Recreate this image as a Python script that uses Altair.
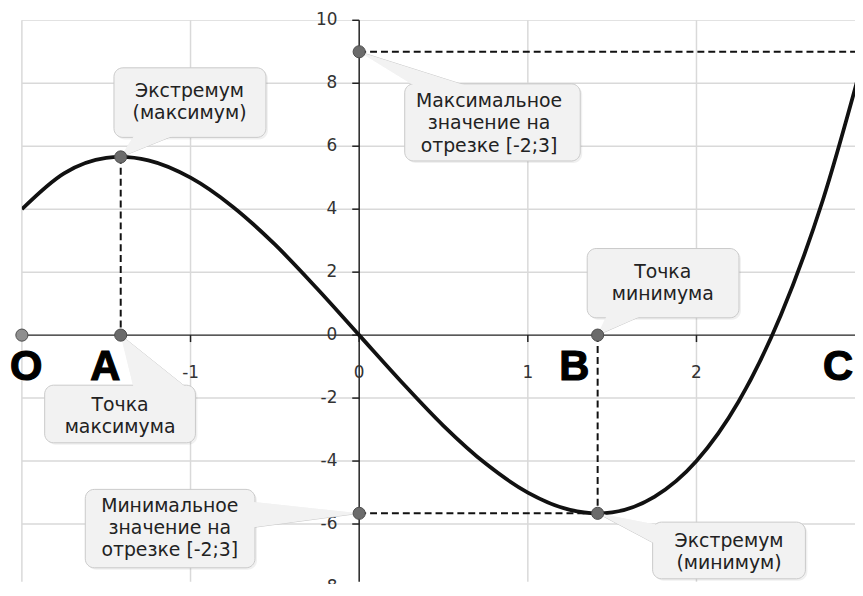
import altair as alt
import pandas as pd

# ---------------- data ----------------
# curve y(x) on [-2; 3]
curve_x = [-2, -1.75, -1.5, -1.414, -1.25, -1, -0.75, -0.5, -0.25, 0,
           0.25, 0.5, 0.75, 1, 1.25, 1.414, 1.5, 1.75, 2, 2.25, 2.5, 2.75, 3]
curve_y = [4.0, 5.14, 5.63, 5.66, 5.55, 5.0, 4.08, 2.88, 1.48, 0.0,
           -1.48, -2.88, -4.08, -5.0, -5.55, -5.66, -5.63, -5.14, -4.0, -2.11, 0.63, 4.3, 9.0]

x_ticks = [-1, 0, 1, 2]
y_ticks = [-8, -6, -4, -2, 0, 2, 4, 6, 8, 10]
x_grid = [-2, -1, 0, 1, 2, 3]

# marked points
pt_x = [-2, -1.414, -1.414, 0, 0, 1.414, 1.414]
pt_y = [0, 5.66, 0, 9, -5.66, 0, -5.66]
pt_kind = ["O", "p", "p", "p", "p", "p", "p"]

# big letters on the x axis
letters = ["O", "A", "B", "C"]
letter_x = [-1.974, -1.506, 1.275, 2.84]
letter_y = [-1.44, -1.44, -1.44, -1.44]

# dashed guide lines
guide_x = [-1.414, 1.414, 0, 0]
guide_x2 = [-1.414, 1.414, 3, 1.414]
guide_y = [5.66, 0, 9, -5.66]
guide_y2 = [0, -5.66, 9, -5.66]

# callouts
callout_text = [
    "Экстремум\n(максимум)",
    "Максимальное\nзначение на\nотрезке [-2;3]",
    "Точка\nминимума",
    "Точка\nмаксимума",
    "Минимальное\nзначение на\nотрезке [-2;3]",
    "Экстремум\n(минимум)",
]
box_x = [-1.454, 0.27, 1.352, -1.865, -1.624, 1.74]
box_x2 = [-0.553, 1.311, 2.252, -0.971, -0.618, 2.646]
box_y = [8.49, 7.98, 2.75, -1.59, -4.90, -5.94]
box_y2 = [6.28, 5.53, 0.55, -3.42, -7.39, -7.74]
text_x = [-1.006, 0.77, 1.80, -1.418, -1.123, 2.193]
text_y = [7.75, 7.43, 2.0, -2.21, -5.42, -6.53]   # first line of each callout

# callout tails: (callout id, vertex x, vertex y)
tail_id = [0, 0, 0, 1, 1, 1, 2, 2, 2, 3, 3, 3, 4, 4, 4, 5, 5, 5]
tail_x = [-1.33, -1.08, -1.414, 0.34, 0.66, 0.0, 1.47, 1.69, 1.414,
          -1.335, -1.01, -1.414, -0.66, -0.66, 0.0, 1.78, 1.78, 1.414]
tail_y = [6.38, 6.38, 5.66, 7.88, 7.88, 9.0, 0.65, 0.65, 0.0,
          -1.73, -1.73, 0.0, -5.28, -6.13, -5.66, -6.04, -6.70, -5.66]

# ---------------- layout ----------------
X_DOM = [-2, 2.94]
Y_DOM = [-7.83, 10]
W, H = 840, 566
xs = alt.Scale(domain=X_DOM, nice=False, zero=False)
ys = alt.Scale(domain=Y_DOM, nice=False, zero=False)

FONT = "DejaVu Sans"
AXIS_C = "#222222"

curve = pd.DataFrame({"x": curve_x, "y": curve_y})
gridx = pd.DataFrame({"v": x_grid})
gridy = pd.DataFrame({"v": y_ticks})
xt = pd.DataFrame({"v": x_ticks})
yt = pd.DataFrame({"v": y_ticks})
origin = pd.DataFrame({"v": [0]})
pts = pd.DataFrame({"x": pt_x, "y": pt_y, "k": pt_kind})
lets = pd.DataFrame({"t": letters, "x": letter_x, "y": letter_y})
guides = pd.DataFrame({"x": guide_x, "x2": guide_x2, "y": guide_y, "y2": guide_y2})
boxes = pd.DataFrame({"x": box_x, "x2": box_x2, "y": box_y, "y2": box_y2,
                      "tx": text_x, "ty": text_y, "t": callout_text})
tails = pd.DataFrame({"id": tail_id, "x": tail_x, "y": tail_y,
                      "o": [i % 3 for i in range(len(tail_id))]})


def X(f):
    return alt.X(f, scale=xs, axis=None, title=None)


def Y(f):
    return alt.Y(f, scale=ys, axis=None, title=None)


vgrid = alt.Chart(gridx).transform_filter("datum.v != 0").mark_rule(
    color="#d9d9d9", strokeWidth=1.5
).encode(x=X("v:Q"))

hgrid = alt.Chart(gridy).transform_filter("datum.v != 0").mark_rule(
    color="#d9d9d9", strokeWidth=1.5, clip=True
).encode(y=Y("v:Q"))

# axes drawn at x = 0 and y = 0
yaxis_line = alt.Chart(origin).mark_rule(color=AXIS_C, strokeWidth=1.5).encode(x=X("v:Q"))
xaxis_line = alt.Chart(origin).mark_rule(color=AXIS_C, strokeWidth=1.5).encode(y=Y("v:Q"))

yticks = alt.Chart(yt).transform_calculate(z="0").mark_tick(
    orient="horizontal", size=7, thickness=1.5, xOffset=-3.5, color=AXIS_C, opacity=1
).encode(x=X("z:Q"), y=Y("v:Q"))

xticks = alt.Chart(xt).transform_calculate(z="0").mark_tick(
    orient="vertical", size=7, thickness=1.5, yOffset=3.5, color=AXIS_C, opacity=1
).encode(x=X("v:Q"), y=Y("z:Q"))

ylabels = alt.Chart(yt).transform_calculate(z="0", lab="toString(datum.v)").mark_text(
    font=FONT, fontSize=17, color="#333333", align="right", baseline="middle", dx=-22
).encode(x=X("z:Q"), y=Y("v:Q"), text="lab:N")

xlabels = alt.Chart(xt).transform_calculate(z="0", lab="toString(datum.v)").mark_text(
    font=FONT, fontSize=17, color="#333333", align="center", baseline="top", dy=30
).encode(x=X("v:Q"), y=Y("z:Q"), text="lab:N")

line = alt.Chart(curve).mark_line(
    color="#111111", strokeWidth=3.8, interpolate="monotone", clip=True
).encode(x=X("x:Q"), y=Y("y:Q"))

guide_layer = alt.Chart(guides).mark_rule(
    color="#111111", strokeWidth=2, strokeDash=[7, 4], clip=True
).encode(x=X("x:Q"), x2="x2:Q", y=Y("y:Q"), y2="y2:Q")

tail_under = alt.Chart(tails).mark_line(
    fill="#f2f2f2", stroke="#c9c9c9", strokeWidth=1, interpolate="linear"
).encode(x=X("x:Q"), y=Y("y:Q"), detail="id:N", order="o:Q")

box_shadow = alt.Chart(boxes).mark_rect(
    cornerRadius=9, fill="#000000", opacity=0.06, xOffset=2, yOffset=2, x2Offset=2, y2Offset=2
).encode(x=X("x:Q"), x2="x2:Q", y=Y("y:Q"), y2="y2:Q")

box_layer = alt.Chart(boxes).mark_rect(
    cornerRadius=9, fill="#f2f2f2", stroke="#c9c9c9", strokeWidth=1
).encode(x=X("x:Q"), x2="x2:Q", y=Y("y:Q"), y2="y2:Q")

tail_over = alt.Chart(tails).mark_line(
    fill="#f2f2f2", strokeOpacity=0, interpolate="linear"
).encode(x=X("x:Q"), y=Y("y:Q"), detail="id:N", order="o:Q")

box_text = alt.Chart(boxes).mark_text(
    font=FONT, fontSize=19, color="#222222", lineBreak="\n", lineHeight=22.5,
    align="center", baseline="middle"
).encode(x=X("tx:Q"), y=Y("ty:Q"), text="t:N")

points = alt.Chart(pts).mark_circle(size=150, opacity=1, stroke="#4d4d4d", strokeWidth=1).encode(
    x=X("x:Q"), y=Y("y:Q"),
    color=alt.Color("k:N", scale=alt.Scale(domain=["O", "p"], range=["#8f8f8f", "#6b6b6b"]), legend=None),
)

letter_layer = alt.Chart(lets).mark_text(
    font="Liberation Sans", fontSize=42, fontWeight="bold", color="#000000",
    stroke="#000000", strokeWidth=1.2, align="center", baseline="alphabetic"
).encode(x=X("x:Q"), y=Y("y:Q"), text="t:N")

chart = alt.layer(
    vgrid, hgrid, yaxis_line, xaxis_line, yticks, xticks, ylabels, xlabels,
    guide_layer, line, tail_under, box_shadow, box_layer, tail_over,
    box_text, points, letter_layer
).properties(
    width=W, height=H,
    autosize=alt.AutoSizeParams(type="none"),
    padding={"left": 14, "top": 10, "right": 0, "bottom": 0},
    background="#ffffff",
).configure_view(stroke=None)

chart.save("out.html", embed_options={"renderer": "svg", "actions": False})
